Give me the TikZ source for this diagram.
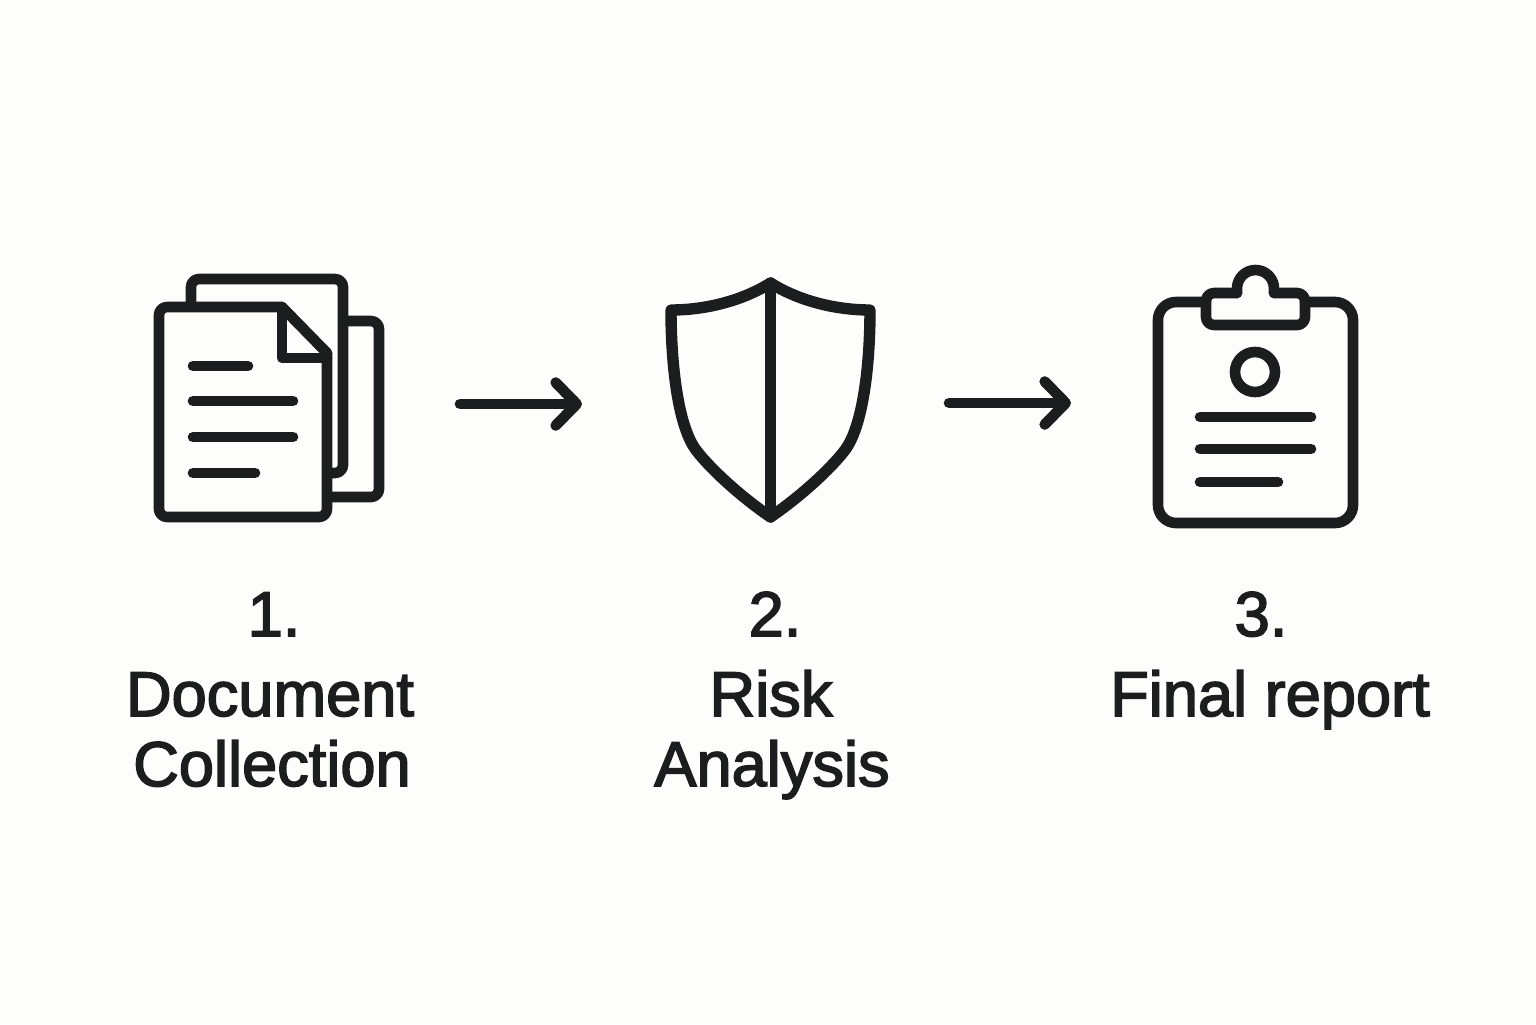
\documentclass[tikz,border=0pt]{standalone}
\usepackage{fontspec}
\usetikzlibrary{arrows.meta}
\setmainfont[FakeBold=2.5]{Liberation Sans}
\definecolor{ink}{HTML}{1B1D1E}
\definecolor{paper}{HTML}{FDFDFB}
\tikzset{
  x=0.5pt,y=-0.5pt,
  icon/.style={draw=ink,line width=5.3pt,line join=round,line cap=round},
  soft/.style={rounded corners=4pt},
  softer/.style={rounded corners=9pt},
  flow/.style={icon,-{Straight Barb[length=10.5pt,width=21.5pt,round]}},
  label/.style={text=ink,font=\fontsize{31.6}{31.6}\selectfont,anchor=base,inner sep=0pt,outer sep=0pt},
}
\begin{document}
\begin{tikzpicture}
\fill[paper] (0,0) rectangle (1536,1024);
\useasboundingbox (0,0) rectangle (1536,1024);
% document icon
\draw[icon,soft] (191,305) -- (191,279) -- (343,279) -- (343,473) -- (330,473);
\draw[icon,soft] (345,321) -- (379,321) -- (379,497) -- (330,497);
\draw[icon,soft] (282,307) -- (159,307) -- (159,517) -- (327,517) -- (327,353);
\draw[icon] (282,307) -- (327,353);
\draw[icon] (282,307) -- (282,358) -- (327,358);
\draw[icon] (193,366) -- (248,366);
\draw[icon] (193,401) -- (293,401);
\draw[icon] (193,437) -- (293,437);
\draw[icon] (193,473) -- (255,473);
% shield
\draw[icon,line width=5.7pt] (770.5,283) .. controls (742,301) and (705,310) .. (671,310)
  .. controls (671,365) and (678,426) .. (696,450)
  .. controls (708,466) and (737,494) .. (770.5,517)
  .. controls (804,494) and (833,466) .. (845,450)
  .. controls (863,426) and (870,365) .. (870,310)
  .. controls (836,310) and (799,301) .. (770.5,283) -- cycle;
\draw[icon,line width=5.7pt] (770.5,283) -- (770.5,517);
% clipboard
\draw[icon,softer] (1206,302) -- (1158,302) -- (1158,523) -- (1353,523) -- (1353,302) -- (1305,302);
\draw[icon] (1237,293) -- (1237,288.5) arc[start angle=180,end angle=360,radius=18.5] -- (1274,293);
\draw[icon,soft] (1237,293) -- (1206,293) -- (1206,325) -- (1305,325) -- (1305,293) -- (1274,293);
\draw[icon] (1255,372) circle[radius=20];
\draw[icon] (1200,417) -- (1311,417);
\draw[icon] (1200,449) -- (1311,449);
\draw[icon] (1200,482) -- (1278,482);
% labels
\node[label] (n1) at (274,636) {1.};
\node[label] (t1a) at (270,716) {Document};
\node[label] (t1b) at (272,786) {Collection};
\node[label] (n2) at (775,636) {2.};
\node[label] (t2a) at (771,716) {Risk};
\node[label] (t2b) at (772,786) {Analysis};
\node[label] (n3) at (1261,636) {3.};
\node[label] (t3a) at (1270,716) {Final report};
% arrows
\coordinate (a1s) at (460,404); \coordinate (a1e) at (582,404);
\coordinate (a2s) at (949,403); \coordinate (a2e) at (1071,403);
\draw[flow] (a1s) -- (a1e);
\draw[flow] (a2s) -- (a2e);
\end{tikzpicture}
\end{document}
